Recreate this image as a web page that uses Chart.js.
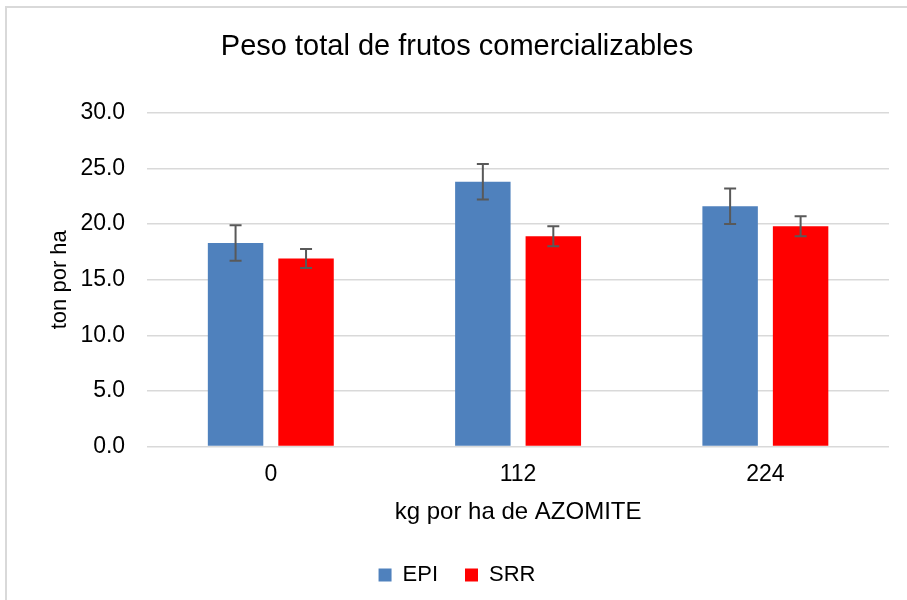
<!DOCTYPE html>
<html>
<head>
<meta charset="utf-8">
<script src="https://cdn.jsdelivr.net/npm/chart.js@4.4.0/dist/chart.umd.min.js"></script>
<style>
  body { margin: 0; background: #fff; }
  #marco { position: absolute; left: 5px; top: 6px; width: 1000px; height: 1000px; border: 2px solid #d9d9d9; }
  #grafico { position: absolute; left: 0; top: 0; }
</style>
</head>
<body>
<div id="marco"></div>
<canvas id="grafico" width="907" height="600"></canvas>
<script>
// Dados (kg por ha de AZOMITE)
const categorias = ['0', '112', '224'];
const valoresEPI = [18.3, 23.8, 21.6];
const valoresSRR = [16.9, 18.9, 19.8];
const erroEPI = [1.6, 1.6, 1.6];
const erroSRR = [0.85, 0.9, 0.9];

const fonte = 'Liberation Sans, Arial, sans-serif';

// Barras de erro desenhadas sobre as barras
const barrasDeErro = {
    id: 'barrasDeErro',
    afterDatasetsDraw(chart) {
        const ctx = chart.ctx;
        const escalaY = chart.scales.y;
        chart.data.datasets.forEach((ds, i) => {
            const meta = chart.getDatasetMeta(i);
            meta.data.forEach((barra, j) => {
                const v = ds.data[j];
                const e = ds.erros[j];
                const yTopo = escalaY.getPixelForValue(v + e);
                const yBase = escalaY.getPixelForValue(v - e);
                ctx.save();
                ctx.strokeStyle = '#595959';
                ctx.lineWidth = 2;
                ctx.beginPath();
                ctx.moveTo(barra.x, yTopo);
                ctx.lineTo(barra.x, yBase);
                ctx.moveTo(barra.x - 6, yTopo);
                ctx.lineTo(barra.x + 6, yTopo);
                ctx.moveTo(barra.x - 6, yBase);
                ctx.lineTo(barra.x + 6, yBase);
                ctx.stroke();
                ctx.restore();
            });
        });
    }
};

const ctx = document.getElementById('grafico').getContext('2d');
new Chart(ctx, {
    type: 'bar',
    data: {
        labels: categorias,
        datasets: [{
            label: 'EPI',
            data: valoresEPI,
            erros: erroEPI,
            backgroundColor: '#4f81bd',
            categoryPercentage: 0.57,
            barPercentage: 0.787,
        }, {
            label: 'SRR',
            data: valoresSRR,
            erros: erroSRR,
            backgroundColor: '#ff0000',
            categoryPercentage: 0.57,
            barPercentage: 0.787,
        }]
    },
    options: {
        responsive: false,
        animation: false,
        layout: {
            padding: { left: 25, right: 18, top: 0, bottom: 4 }
        },
        plugins: {
            title: {
                display: true,
                text: 'Peso total de frutos comercializables',
                color: '#000',
                font: { family: fonte, size: 29, weight: 'normal' },
                padding: { top: 30, bottom: 48 }
            },
            legend: {
                position: 'bottom',
                labels: {
                    color: '#000',
                    boxWidth: 13,
                    boxHeight: 13,
                    padding: 27,
                    font: { family: fonte, size: 22 }
                }
            },
            tooltip: { enabled: false }
        },
        scales: {
            x: {
                grid: { display: false, drawTicks: false },
                border: { display: false },
                ticks: {
                    color: '#000',
                    padding: 14,
                    font: { family: fonte, size: 23 }
                },
                title: {
                    display: true,
                    text: 'kg por ha de AZOMITE',
                    color: '#000',
                    font: { family: fonte, size: 24 },
                    padding: { top: -4, bottom: 10 }
                }
            },
            y: {
                min: 0,
                max: 30,
                border: { display: false },
                grid: { color: '#d9d9d9', lineWidth: 1.5, drawTicks: false },
                ticks: {
                    stepSize: 5,
                    color: '#000',
                    padding: 22,
                    font: { family: fonte, size: 23 },
                    callback: (v) => v.toFixed(1)
                },
                title: {
                    display: true,
                    text: 'ton por ha',
                    color: '#000',
                    font: { family: fonte, size: 22 },
                    padding: { top: 22, bottom: -15 }
                }
            }
        }
    },
    plugins: [barrasDeErro]
});
</script>
</body>
</html>
